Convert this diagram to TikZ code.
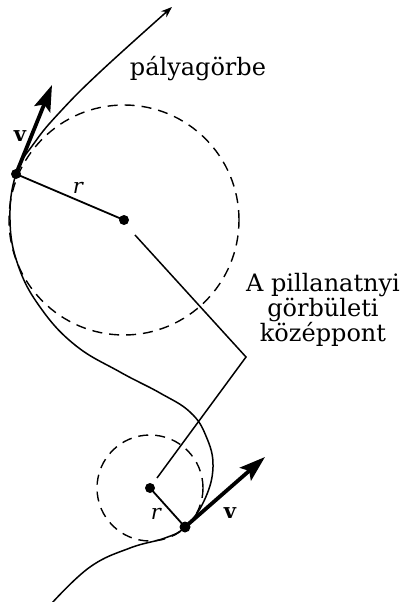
\documentclass[tikz,border=0pt]{standalone}
\usepackage{fontspec}
\newfontfamily\dejavuserif{DejaVu Serif}
\usetikzlibrary{arrows.meta}

\begin{document}
\begin{tikzpicture}[x=1pt,y=-1pt,
    palya/.style={line width=1.5pt},
    kor/.style={line width=1.4pt, dash pattern=on 10pt off 7pt},
    sugar/.style={line width=1.8pt},
    vektor/.style={line width=3.8pt, -{Stealth[length=26pt,width=17pt,inset=5pt]}},
    felirat/.style={font=\dejavuserif\fontsize{24}{25}\selectfont, inner sep=0pt},
    betu/.style={font=\dejavuserif\fontsize{21}{21}\selectfont, inner sep=0pt}]
    \useasboundingbox (0,0) rectangle (407,602);

    % pontok
    \coordinate (P1) at (16,174);
    \coordinate (C1) at (124,220);
    \coordinate (P2) at (185,527);
    \coordinate (C2) at (150,488);
    \coordinate (v1) at (52,85);
    \coordinate (v2) at (265,457);
    \coordinate (sarok) at (246,357);
    \coordinate (vegA) at (135,235);
    \coordinate (vegB) at (157,478);

    % simulókörök
    \draw[kor] (C1) circle[radius=115pt];
    \draw[kor] (C2) circle[radius=53pt];

    % pálya
    \draw[palya, -{Stealth[length=11pt,width=8pt]}] plot[smooth, tension=0.7] coordinates {(52,603) (90,567) (130,548) (165,538) (P2) (204,501) (213,467) (206,436) (190,412) (160,393) (120,372) (75,345) (40,307) (18,265) (10,220) (P1) (35,142) (60,112) (100,72) (172,7)};

    % sugarak
    \draw[sugar] (P1) -- (C1);
    \draw[sugar] (P2) -- (C2);
    \fill (P1) circle (5pt);
    \fill (C1) circle (5pt);
    \fill (P2) circle (5.5pt);
    \fill (C2) circle (5pt);

    % sebességek
    \draw[vektor] (P1) -- (v1);
    \draw[vektor] (P2) -- (v2);

    % mutatóvonal
    \draw[palya] (vegA) -- (sarok) -- (vegB);

    % feliratok
    \node[betu] (vfelso) at (20,136) {\bfseries v};
    \node[betu] (rfelso) at (78,188) {\itshape r};
    \node[betu] (valso) at (230,513) {\bfseries v};
    \node[betu] (ralso) at (156,514) {\itshape r};
    \node[felirat, anchor=base] (palyanev) at (198,75) {pályagörbe};
    \node[felirat, align=center, anchor=base] (kozeppont) at (323,341) {A pillanatnyi\\görbületi\\középpont};
\end{tikzpicture}
\end{document}
